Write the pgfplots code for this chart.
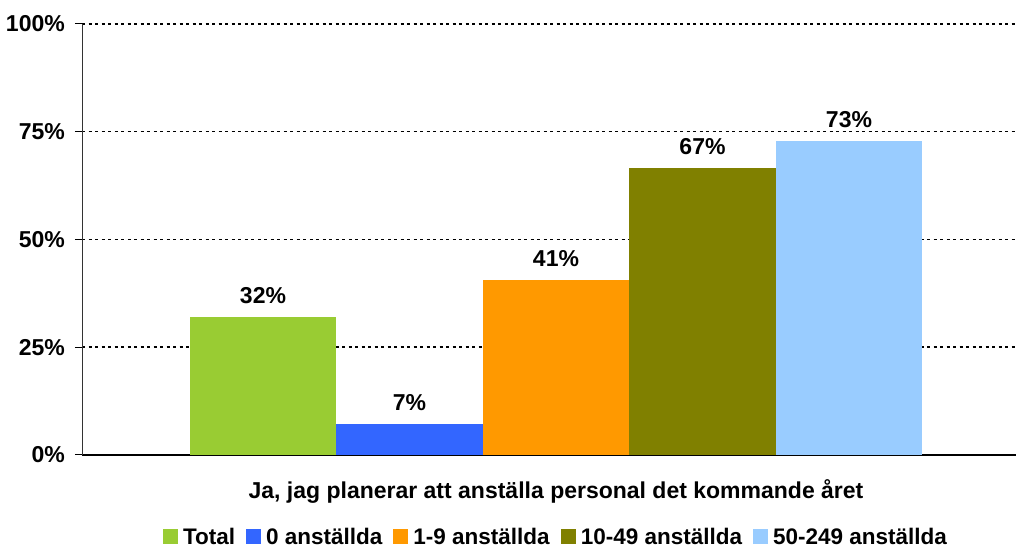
\documentclass[border=0pt]{standalone}
\usepackage{fontspec}
\setmainfont{Liberation Sans}
\usepackage{pgfplots}
\pgfplotsset{compat=1.18}
\definecolor{cTotal}{RGB}{153,204,51}
\definecolor{cZero}{RGB}{51,102,255}
\definecolor{cSmall}{RGB}{255,153,0}
\definecolor{cMid}{RGB}{128,128,0}
\definecolor{cLarge}{RGB}{153,204,255}
\begin{document}
\begin{tikzpicture}[font=\fontsize{23bp}{27bp}\selectfont\bfseries]
\useasboundingbox (0,0) rectangle (1016bp,549bp);
\begin{axis}[
  at={(82bp,94bp)}, anchor=south west,
  scale only axis, width=934bp, height=431bp,
  xmin=82, xmax=1016, ymin=0, ymax=100,
  axis x line*=bottom, axis y line*=left,
  axis line style={-},
  x axis line style={black, line width=1.5bp},
  y axis line style={black!80, line width=1bp},
  ytick={0,25,50,75,100},
  yticklabel={\pgfmathprintnumber{\tick}\%},
  /pgf/number format/assume math mode=true,
  tick align=outside, major tick length=7bp,
  y tick style={black, line width=1bp},
  y tick label style={inner sep=0pt, xshift=-10bp},
  xtick={556},
  xticklabels={Ja{,} jag planerar att anställa personal det kommande året},
  x tick style={draw=none},
  x tick label style={yshift=-14bp},
  ymajorgrids,
  major grid style={black, line width=1.5bp, dash pattern=on 3bp off 3.5bp},
  nodes near coords={\pgfmathprintnumber[fixed,precision=0]{\pgfplotspointmeta}\%},
  every node near coord/.append style={inner sep=0pt, yshift=13bp, black},
  legend style={at={(0.5075,-0.19)}, anchor=center, draw=none, fill=none,
    legend columns=5, inner sep=0pt,
    font=\fontsize{22.5bp}{26bp}\selectfont\bfseries,
    /tikz/every odd column/.append style={column sep=3bp},
    /tikz/every even column/.append style={column sep=9bp}},
  legend cell align=left,
  legend image code/.code={\fill[#1] (0bp,-7.5bp) rectangle (15bp,7.5bp);},
]
\addplot[ybar, bar width=146.5, bar shift=0, fill=cTotal, draw=none] coordinates {(263,32)};
\addlegendentry{Total}
\addplot[ybar, bar width=146.5, bar shift=0, fill=cZero, draw=none] coordinates {(409.5,7.2)};
\addlegendentry{0 anställda}
\addplot[ybar, bar width=146.5, bar shift=0, fill=cSmall, draw=none] coordinates {(556,40.6)};
\addlegendentry{1-9 anställda}
\addplot[ybar, bar width=146.5, bar shift=0, fill=cMid, draw=none] coordinates {(702.5,66.6)};
\addlegendentry{10-49 anställda}
\addplot[ybar, bar width=146.5, bar shift=0, fill=cLarge, draw=none] coordinates {(849,72.9)};
\addlegendentry{50-249 anställda}
\end{axis}
\end{tikzpicture}
\end{document}
